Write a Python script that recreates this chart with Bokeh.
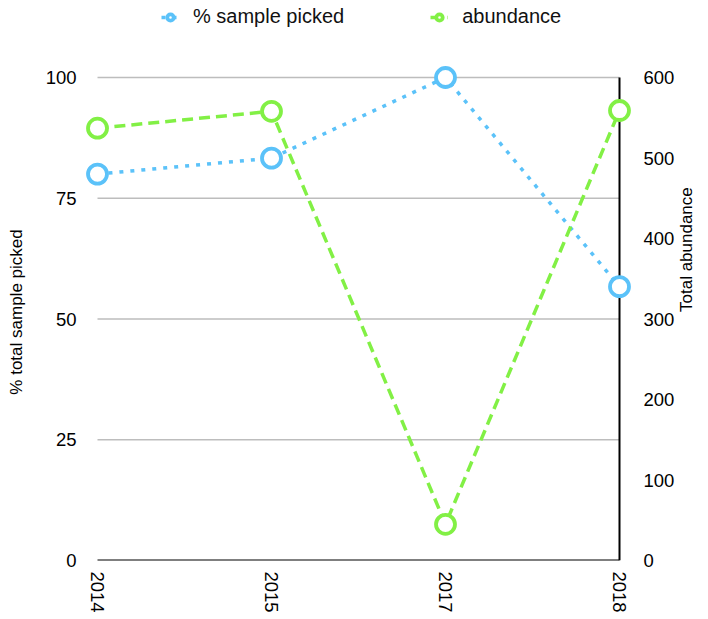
import math

from bokeh.embed import file_html
from bokeh.layouts import column
from bokeh.models import (
    ColumnDataSource,
    FixedTicker,
    Legend,
    LegendItem,
    LinearAxis,
    Range1d,
)
from bokeh.plotting import figure
from bokeh.resources import INLINE

# ── Data ──────────────────────────────────────────────────
years = ["2014", "2015", "2017", "2018"]
pct_picked = [80.0, 83.3, 100.0, 56.7]
abundance = [537, 558, 45, 559]

left_ticks = [0, 25, 50, 75, 100]
right_ticks = [0, 100, 200, 300, 400, 500, 600]
grid_ticks = [25, 50, 75, 100]

FONT = "Liberation Sans"
BLUE = "#5BC2F9"
GREEN = "#82F045"
GRID = "#bdbdbd"

BLUE_STYLE = dict(color=BLUE, line_width=3.5, line_dash="4 7")
GREEN_STYLE = dict(color=GREEN, line_width=3.5, line_dash="11 6")
MARK = dict(size=19, fill_color="white", line_width=3.8)

# frame is padded a little so the end markers are not clipped;
# axis lines and grid are drawn over the data span only
PAD_X = 14 / 174.0
PAD_Y = 14 / 4.83

xs = list(range(len(years)))
last = len(years) - 1
src = ColumnDataSource(dict(x=xs, pct=pct_picked, abund=abundance))

p = figure(
    width=708,
    height=553,
    title=None,
    x_range=Range1d(-PAD_X, last + PAD_X),
    y_range=Range1d(0, 100 + PAD_Y),
    output_backend="svg",
    toolbar_location=None,
    min_border_left=83,
    min_border_right=75,
    min_border_top=0,
    min_border_bottom=56,
    outline_line_color=None,
)
p.extra_y_ranges = {"abund": Range1d(0, 600 * (100 + PAD_Y) / 100)}

# ── Axes ───────────────────────────────────────────────────
p.xaxis.ticker = FixedTicker(ticks=xs)
p.xaxis.major_label_overrides = {i: y for i, y in enumerate(years)}
p.xaxis.major_label_orientation = -math.pi / 2
p.xaxis.major_label_standoff = 11

p.yaxis.ticker = FixedTicker(ticks=left_ticks)
p.yaxis.axis_label = "% total sample picked"
p.yaxis.major_label_standoff = 7
p.yaxis.axis_label_standoff = 17

right = LinearAxis(y_range_name="abund", ticker=FixedTicker(ticks=right_ticks),
                   axis_label="Total abundance")
right.major_label_standoff = 10
right.axis_label_standoff = 9
if "axis_label_orientation" in right.properties():
    right.axis_label_orientation = math.pi / 2
    right.axis_label_text_align = "center"
p.add_layout(right, "right")

for ax in p.axis:
    ax.axis_line_color = None
    ax.major_tick_line_color = None
    ax.minor_tick_line_color = None
    ax.major_tick_out = 0
    ax.major_tick_in = 0
    ax.minor_tick_out = 0
    ax.major_label_text_font = FONT
    ax.major_label_text_font_size = "18.5px"
    ax.major_label_text_color = "black"
    ax.axis_label_text_font = FONT
    ax.axis_label_text_font_size = "17px"
    ax.axis_label_text_font_style = "normal"
    ax.axis_label_text_color = "black"

p.grid.grid_line_color = None

# grid and axis lines over the data span
p.segment(x0=0, x1=last, y0=grid_ticks, y1=grid_ticks,
          line_color=GRID, line_width=1.5)
p.segment(x0=[0, last], x1=[last, last], y0=[0, 0], y1=[0, 100],
          line_color="black", line_width=2)

# ── Series ─────────────────────────────────────────────────
p.line("x", "pct", source=src, **BLUE_STYLE)
p.scatter("x", "pct", source=src, line_color=BLUE, **MARK)

p.line("x", "abund", source=src, y_range_name="abund", **GREEN_STYLE)
p.scatter("x", "abund", source=src, y_range_name="abund", line_color=GREEN, **MARK)

# ── Legend strip above the chart ───────────────────────────
# same series drawn again, but the ranges keep them out of view:
# only their legend glyphs show
top = figure(
    width=708,
    height=63,
    title=None,
    x_range=Range1d(0, 1),
    y_range=Range1d(-2, -1),
    x_axis_type=None,
    y_axis_type=None,
    output_backend="svg",
    toolbar_location=None,
    min_border=0,
    outline_line_color=None,
)
top.grid.visible = False
kl1 = top.line("x", "pct", source=src, **BLUE_STYLE)
km1 = top.scatter("x", "pct", source=src, line_color=BLUE, **MARK)
kl2 = top.line("x", "abund", source=src, **GREEN_STYLE)
km2 = top.scatter("x", "abund", source=src, line_color=GREEN, **MARK)

legend = Legend(
    items=[
        LegendItem(label="% sample picked", renderers=[kl1, km1]),
        LegendItem(label="abundance", renderers=[kl2, km2]),
    ],
    orientation="horizontal",
    location=(78, 35),
    padding=0,
    margin=0,
    spacing=86,
    glyph_width=18,
    glyph_height=16,
    label_height=16,
    label_standoff=14,
    label_text_font=FONT,
    label_text_font_size="20px",
    label_text_color="#111111",
    border_line_color=None,
    background_fill_alpha=0,
)
top.add_layout(legend, "center")

layout = column(top, p, spacing=0)
open("out.html", "w").write(file_html(layout, INLINE))
